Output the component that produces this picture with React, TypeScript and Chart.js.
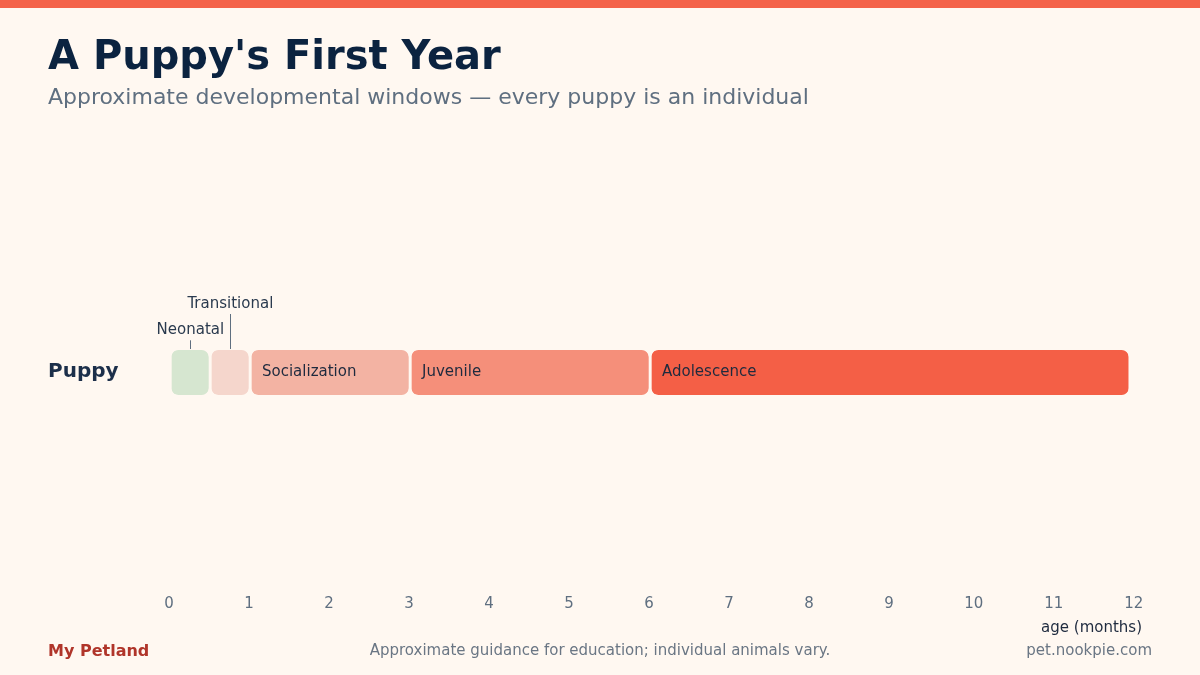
import React, { useEffect, useRef } from "react";
import { Chart, registerables } from "chart.js";

Chart.register(...registerables);

// data
const rows = ["Puppy"];
const stages = ["Neonatal", "Transitional", "Socialization", "Juvenile", "Adolescence"];
const stageStart = [0, 0.5, 1, 3, 6];
const stageEnd = [0.5, 1, 3, 6, 12];
const monthTicks = [0, 1, 2, 3, 4, 5, 6, 7, 8, 9, 10, 11, 12];

const stageColors = ["#D6E6D0", "#F5D6CC", "#F3B3A3", "#F58F7A", "#F45F46"];

const BG = "#FFF8F1";
const INK = "#1E2A3E";
const MUTED = "#5F6F80";
const FONT = "'DejaVu Sans', Verdana, sans-serif";

// labels inside wide bars, called-out labels above narrow ones
const stageLabels = {
  id: "stageLabels",
  afterDatasetsDraw(chart: any) {
    const ctx = chart.ctx;
    ctx.save();
    ctx.font = `15px ${FONT}`;
    let level = 0;
    chart.data.datasets.forEach((ds: any, i: number) => {
      const bar = chart.getDatasetMeta(i).data[0];
      if (!bar) return;
      const { x, y, base, height } = bar.getProps(["x", "y", "base", "height"], true);
      const left = Math.min(x, base) + 3.3;
      const width = Math.abs(x - base) - 3.3;
      const top = y - height / 2;
      const text = ds.label;
      const tw = ctx.measureText(text).width;
      if (tw + 20 < width) {
        ctx.fillStyle = INK;
        ctx.textAlign = "left";
        ctx.textBaseline = "middle";
        ctx.fillText(text, left + 10, y - 0.5);
      } else {
        const cx = left + width / 2;
        const baseline = top - 15.7 - level * 26.3;
        ctx.fillStyle = "#2A3A4E";
        ctx.textAlign = "center";
        ctx.textBaseline = "alphabetic";
        ctx.fillText(text, cx, baseline);
        ctx.strokeStyle = "#5F6F80";
        ctx.lineWidth = 1;
        ctx.beginPath();
        ctx.moveTo(Math.round(cx) + 0.5, baseline + 6);
        ctx.lineTo(Math.round(cx) + 0.5, top - 1);
        ctx.stroke();
        level++;
      }
    });

    // row name
    const yScale = chart.scales.y;
    ctx.font = `bold 20px ${FONT}`;
    ctx.fillStyle = "#1C2F4A";
    ctx.textAlign = "left";
    ctx.textBaseline = "middle";
    rows.forEach((r, i) => ctx.fillText(r, 48, yScale.getPixelForValue(i) - 0.5));

    // axis title
    ctx.font = `15px ${FONT}`;
    ctx.fillStyle = INK;
    ctx.textAlign = "right";
    ctx.textBaseline = "alphabetic";
    ctx.fillText("age (months)", 1142, 632);
    ctx.restore();
  },
};

const TimelineChart = () => {
  const canvasRef = useRef<HTMLCanvasElement>(null);
  const chartRef = useRef<any>(null);

  useEffect(() => {
    if (!canvasRef.current) return;
    if (chartRef.current) chartRef.current.destroy();

    chartRef.current = new Chart(canvasRef.current, {
      type: "bar",
      data: {
        labels: rows,
        datasets: stages.map((s, i) => ({
          label: s,
          data: [[stageStart[i], stageEnd[i]]],
          backgroundColor: stageColors[i],
          borderColor: BG,
          borderWidth: { left: 3.3, right: 0, top: 0, bottom: 0 },
          borderSkipped: false,
          borderRadius: { topLeft: 10, bottomLeft: 10, topRight: 7, bottomRight: 7 },
          barThickness: 45,
          grouped: false,
        })) as any,
      },
      options: {
        indexAxis: "y",
        animation: false,
        responsive: true,
        maintainAspectRatio: false,
        layout: { padding: { left: 168.7, right: 71.3, top: 150, bottom: 60 } },
        plugins: {
          legend: { display: false },
          tooltip: { enabled: false },
          title: { display: false },
        },
        scales: {
          x: {
            type: "linear",
            min: 0,
            max: 12,
            afterBuildTicks: (scale: any) => {
              scale.ticks = monthTicks.map((v) => ({ value: v }));
            },
            afterFit: (scale: any) => {
              scale.height = 20;
            },
            grid: { display: false, drawTicks: false },
            border: { display: false },
            ticks: {
              align: "start",
              labelOffset: -4.5,
              padding: 0.5,
              color: MUTED,
              font: { family: FONT, size: 15 },
            },
          },
          y: {
            type: "category",
            display: false,
          },
        },
      } as any,
      plugins: [stageLabels],
    });

    return () => {
      if (chartRef.current) {
        chartRef.current.destroy();
        chartRef.current = null;
      }
    };
  }, []);

  return (
    <div style={{ position: "absolute", left: 0, top: 0, width: 1200, height: 675 }}>
      <canvas ref={canvasRef} />
    </div>
  );
};

const App = () => {
  const text: React.CSSProperties = { position: "absolute", fontFamily: FONT, whiteSpace: "nowrap" };
  return (
    <div
      style={{
        position: "fixed",
        left: 0,
        top: 0,
        width: 1200,
        height: 675,
        background: BG,
        overflow: "hidden",
      }}
    >
      <div style={{ position: "absolute", left: 0, top: 0, width: 1200, height: 8, background: "#F4634A" }} />
      <TimelineChart />
      <div style={{ ...text, left: 48, top: 34.5, fontSize: 40, lineHeight: "40px", fontWeight: "bold", color: "#0B2340" }}>
        A Puppy's First Year
      </div>
      <div style={{ ...text, left: 48, top: 85.7, fontSize: 22, lineHeight: "22px", color: MUTED }}>
        Approximate developmental windows — every puppy is an individual
      </div>
      <div style={{ ...text, left: 48, top: 642.5, fontSize: 16, lineHeight: "16px", fontWeight: "bold", color: "#B0352A" }}>
        My Petland
      </div>
      <div style={{ ...text, left: 0, width: 1200, textAlign: "center", top: 642.8, fontSize: 15, lineHeight: "15px", color: "#6A7684" }}>
        Approximate guidance for education; individual animals vary.
      </div>
      <div style={{ ...text, right: 48, textAlign: "right", top: 642.8, fontSize: 15, lineHeight: "15px", color: "#6A7684" }}>
        pet.nookpie.com
      </div>
    </div>
  );
};

export default App;
